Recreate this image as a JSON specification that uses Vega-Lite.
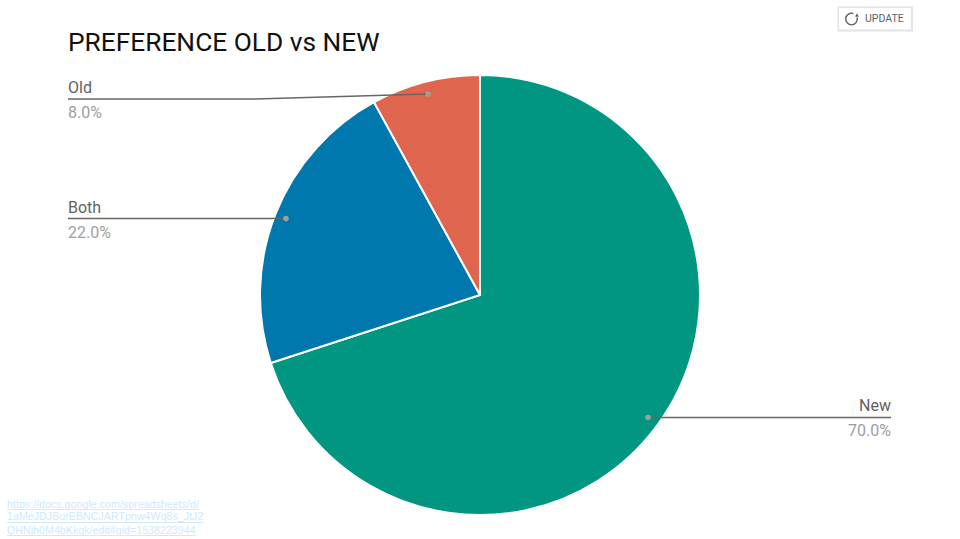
{"$schema":"https://vega.github.io/schema/vega-lite/v6.json","width":960,"height":539,"padding":0,"autosize":{"type":"none"},"background":"white","title":{"text":"PREFERENCE OLD vs NEW","anchor":"start","frame":"group","font":"Roboto","fontSize":26.3,"fontWeight":"normal","color":"#111111","dx":68,"dy":77,"offset":0,"baseline":"alphabetic"},"data":{"values":[{"category":"New","share":0.7,"rank":1},{"category":"Both","share":0.22,"rank":2},{"category":"Old","share":0.08,"rank":3}]},"config":{"view":{"stroke":null},"text":{"font":"Roboto","fontSize":16}},"layer":[
{"mark":{"type":"arc","stroke":"white","strokeWidth":2},"encoding":{"theta":{"field":"share","type":"quantitative","stack":true},"order":{"field":"rank","type":"ordinal"},"color":{"field":"category","type":"nominal","legend":null,"scale":{"domain":["New","Both","Old"],"range":["#009681","#0077ad","#e0654f"]}},"x":{"value":480},"y":{"value":295},"radius":{"value":220}}},
{"transform":[{"filter":"datum.category==='New'"}],"mark":{"type":"rule","color":"#666666","strokeWidth":1.3},"encoding":{"x":{"value":648},"x2":{"value":891},"y":{"value":417.5},"y2":{"value":417.5}}},
{"transform":[{"filter":"datum.category==='Both'"}],"mark":{"type":"rule","color":"#666666","strokeWidth":1.3},"encoding":{"x":{"value":68},"x2":{"value":286},"y":{"value":218.5},"y2":{"value":218.5}}},
{"transform":[{"filter":"datum.category==='Old'"}],"mark":{"type":"rule","color":"#666666","strokeWidth":1.3},"encoding":{"x":{"value":68},"x2":{"value":255},"y":{"value":99},"y2":{"value":99}}},
{"transform":[{"filter":"datum.category==='Old'"}],"mark":{"type":"rule","color":"#666666","strokeWidth":1.3},"encoding":{"x":{"value":255},"x2":{"value":428},"y":{"value":99},"y2":{"value":94}}},
{"transform":[{"filter":"datum.category==='New'"}],"mark":{"type":"point","filled":true,"color":"#9e9e9e","opacity":1,"size":30},"encoding":{"x":{"value":648},"y":{"value":417.5}}},
{"transform":[{"filter":"datum.category==='Both'"}],"mark":{"type":"point","filled":true,"color":"#9e9e9e","opacity":1,"size":30},"encoding":{"x":{"value":286},"y":{"value":218.5}}},
{"transform":[{"filter":"datum.category==='Old'"}],"mark":{"type":"point","filled":true,"color":"#9e9e9e","opacity":1,"size":30},"encoding":{"x":{"value":428},"y":{"value":94}}},
{"transform":[{"filter":"datum.category==='New'"}],"mark":{"type":"text","align":"right","baseline":"alphabetic","color":"#616161"},"encoding":{"text":{"field":"category"},"x":{"value":891},"y":{"value":411}}},
{"transform":[{"filter":"datum.category==='New'"}],"mark":{"type":"text","align":"right","baseline":"alphabetic","color":"#9e9e9e"},"encoding":{"text":{"field":"share","format":".1%"},"x":{"value":891},"y":{"value":436}}},
{"transform":[{"filter":"datum.category==='Both'"}],"mark":{"type":"text","align":"left","baseline":"alphabetic","color":"#616161"},"encoding":{"text":{"field":"category"},"x":{"value":68},"y":{"value":213}}},
{"transform":[{"filter":"datum.category==='Both'"}],"mark":{"type":"text","align":"left","baseline":"alphabetic","color":"#9e9e9e"},"encoding":{"text":{"field":"share","format":".1%"},"x":{"value":68},"y":{"value":238}}},
{"transform":[{"filter":"datum.category==='Old'"}],"mark":{"type":"text","align":"left","baseline":"alphabetic","color":"#616161"},"encoding":{"text":{"field":"category"},"x":{"value":68},"y":{"value":93}}},
{"transform":[{"filter":"datum.category==='Old'"}],"mark":{"type":"text","align":"left","baseline":"alphabetic","color":"#9e9e9e"},"encoding":{"text":{"field":"share","format":".1%"},"x":{"value":68},"y":{"value":118}}},
{"data":{"values":[{"t":"UPDATE"}]},"mark":{"type":"rect","fill":"#e3e3e3","stroke":null},"encoding":{"x":{"value":837.5},"x2":{"value":913},"y":{"value":6.5},"y2":{"value":31.5}}},
{"data":{"values":[{"t":"UPDATE"}]},"mark":{"type":"rect","fill":"white","stroke":null},"encoding":{"x":{"value":839},"x2":{"value":911},"y":{"value":8},"y2":{"value":29.5}}},
{"data":{"values":[{"t":"UPDATE"}]},"mark":{"type":"text","align":"left","baseline":"alphabetic","font":"Roboto","fontSize":10.5,"color":"#616161"},"encoding":{"text":{"field":"t"},"x":{"value":865},"y":{"value":22}}},
{"data":{"values":[{"t":"icon"}]},"mark":{"type":"arc","fill":"#666666","stroke":null},"encoding":{"x":{"value":851.5},"y":{"value":19},"radius":{"value":6.5},"radius2":{"value":5},"theta":{"value":1.3},"theta2":{"value":6.6}}},
{"data":{"values":[{"t":"icon"}]},"mark":{"type":"point","shape":"triangle-up","filled":true,"color":"#666666","opacity":1,"size":16},"encoding":{"x":{"value":857},"y":{"value":15}}},
{"data":{"values":[{"t":"https://docs.google.com/spreadsheets/d/"}]},"mark":{"type":"text","align":"left","baseline":"alphabetic","font":"Liberation Sans","fontSize":10.7,"color":"#cfe9fb"},"encoding":{"text":{"field":"t"},"x":{"value":7},"y":{"value":508}}},
{"data":{"values":[{"t":"1aMeJDJBurEBNCJARTpnw4Wq8s_JtJ2"}]},"mark":{"type":"text","align":"left","baseline":"alphabetic","font":"Liberation Sans","fontSize":10.7,"color":"#cfe9fb"},"encoding":{"text":{"field":"t"},"x":{"value":7},"y":{"value":520}}},
{"data":{"values":[{"t":"QHNjh0M4bKkqk/edit#gid=1538223944"}]},"mark":{"type":"text","align":"left","baseline":"alphabetic","font":"Liberation Sans","fontSize":10.7,"color":"#cfe9fb"},"encoding":{"text":{"field":"t"},"x":{"value":7},"y":{"value":534}}},
{"data":{"values":[{"t":"u"}]},"mark":{"type":"rule","color":"#cfe9fb","strokeWidth":1},"encoding":{"x":{"value":7},"x2":{"value":199},"y":{"value":509.5},"y2":{"value":509.5}}},
{"data":{"values":[{"t":"u"}]},"mark":{"type":"rule","color":"#cfe9fb","strokeWidth":1},"encoding":{"x":{"value":7},"x2":{"value":203},"y":{"value":522.5},"y2":{"value":522.5}}},
{"data":{"values":[{"t":"u"}]},"mark":{"type":"rule","color":"#cfe9fb","strokeWidth":1},"encoding":{"x":{"value":7},"x2":{"value":196},"y":{"value":535.5},"y2":{"value":535.5}}}
]}
